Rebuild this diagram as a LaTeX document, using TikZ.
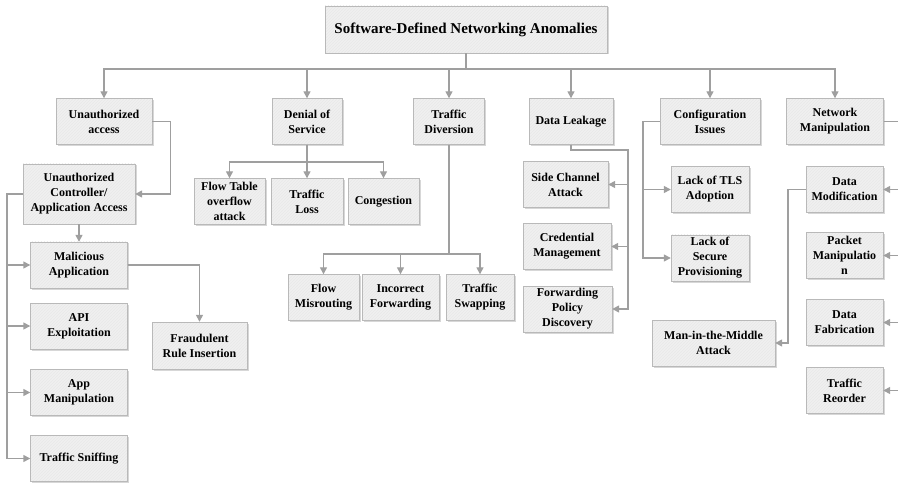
\documentclass[tikz,border=0pt]{standalone}
\usepackage{fontspec}
\setmainfont{Liberation Serif}
\usetikzlibrary{arrows.meta,shadows,patterns}

\begin{document}
\begin{tikzpicture}[x=1pt,y=-1pt,
 every node/.style={font=\fontsize{12}{15}\selectfont\bfseries},
 b/.style={drop shadow={shadow xshift=1.5pt,shadow yshift=-1.5pt,fill=gray!70,opacity=.45},
   preaction={fill=gray!12},pattern=north east lines,pattern color=gray!18,
   draw=gray!55,align=center,inner sep=1pt,minimum height=46pt},
 ln/.style={draw=gray!75,line width=1.4pt},
 arr/.style={ln,-{Triangle[length=7pt,width=7pt]}}]
\useasboundingbox (0,0) rectangle (898,484);
\node[b,minimum width=282pt,minimum height=47pt,font=\fontsize{15}{18}\selectfont\bfseries] (root) at (466,29.5) {Software-Defined Networking Anomalies};
\node[b,minimum width=96pt] (ua) at (104,121.5) {Unauthorized\\access};
\node[b,minimum width=70pt] (dos) at (307,121.5) {Denial of\\Service};
\node[b,minimum width=71pt] (td) at (449,121.5) {Traffic\\Diversion};
\node[b,minimum width=84pt] (dl) at (571,121.5) {Data Leakage};
\node[b,minimum width=100pt] (ci) at (710,121.5) {Configuration\\Issues};
\node[b,minimum width=97pt] (nm) at (835,121.5) {Network\\Manipulation};
\node[b,minimum width=112pt,minimum height=60pt] (uca) at (79,194) {Unauthorized\\Controller/\\Application Access};
\node[b,minimum width=97pt] (mal) at (79,265) {Malicious\\Application};
\node[b,minimum width=97pt] (api) at (79,326) {API\\Exploitation};
\node[b,minimum width=97pt] (appm) at (79,392.5) {App\\Manipulation};
\node[b,minimum width=97pt] (sniff) at (79,458.5) {Traffic Sniffing};
\node[b,minimum width=95pt,minimum height=47pt] (fri) at (199.5,345.5) {Fraudulent\\Rule Insertion};
\node[b,minimum width=71pt] (ftab) at (229.5,201.5) {Flow Table\\overflow\\attack};
\node[b,minimum width=72pt] (tloss) at (307,201.5) {Traffic\\Loss};
\node[b,minimum width=71pt] (cong) at (383.5,201.5) {Congestion};
\node[b,minimum width=71pt] (fmis) at (323.5,297.5) {Flow\\Misrouting};
\node[b,minimum width=77pt] (incf) at (400.5,297.5) {Incorrect\\Forwarding};
\node[b,minimum width=68pt] (tswap) at (480,297.5) {Traffic\\Swapping};
\node[b,minimum width=85pt] (side) at (565.5,184.5) {Side Channel\\Attack};
\node[b,minimum width=88pt] (cred) at (567,246.5) {Credential\\Management};
\node[b,minimum width=89pt] (fpd) at (567.5,309) {Forwarding\\Policy\\Discovery};
\node[b,minimum width=78pt] (tls) at (710,189.5) {Lack of TLS\\Adoption};
\node[b,minimum width=78pt] (prov) at (710,258) {Lack of\\Secure\\Provisioning};
\node[b,minimum width=77pt] (dmod) at (844.5,189.5) {Data\\Modification};
\node[b,minimum width=77pt] (pman) at (844.5,255.5) {Packet\\Manipulatio\\n};
\node[b,minimum width=77pt] (dfab) at (844.5,322.5) {Data\\Fabrication};
\node[b,minimum width=77pt] (reord) at (844.5,390.5) {Traffic\\Reorder};
\node[b,minimum width=123pt] (mitm) at (713.5,343) {Man-in-the-Middle\\Attack};
\coordinate (top) at (466,69);
\draw[ln] (root) -- (top);
\foreach \n in {ua,dos,td,dl,ci,nm} \draw[arr] (top) -| (\n.north);
\draw[arr] (ua.east) -- ++(18,0) |- (uca.east);
\draw[arr] (uca) -- (mal);
\coordinate (lbus) at (7,194);
\draw[arr] (uca.west) -- (lbus) |- (sniff.west);
\foreach \n in {mal,api,appm} \draw[arr] (lbus |- \n.west) -- (\n.west);
\draw[arr] (mal.east) -| (fri.north);
\coordinate (dbus) at (307,162);
\draw[ln] (dos) -- (dbus);
\foreach \n in {ftab,tloss,cong} \draw[arr] (dbus) -| (\n.north);
\coordinate (tbus) at (449,254);
\draw[ln] (td) -- (tbus);
\foreach \n in {fmis,incf,tswap} \draw[arr] (tbus) -| (\n.north);
\coordinate (lkbus) at (628,150);
\draw[arr] (dl.south) |- (lkbus) |- (fpd.east);
\foreach \n in {side,cred} \draw[arr] (lkbus |- \n.east) -- (\n.east);
\coordinate (cbus) at (643,121.5);
\draw[arr] (ci.west) -- (cbus) |- (prov.west);
\draw[arr] (cbus |- tls.west) -- (tls.west);
\coordinate (nbus) at (904,121.5);
\draw[arr] (nm.east) -- (nbus) |- (reord.east);
\foreach \n in {dmod,pman,dfab} \draw[arr] (nbus |- \n.east) -- (\n.east);
\draw[arr] (dmod.west) -- ++(-18,0) |- (mitm.east);
\end{tikzpicture}
\end{document}
